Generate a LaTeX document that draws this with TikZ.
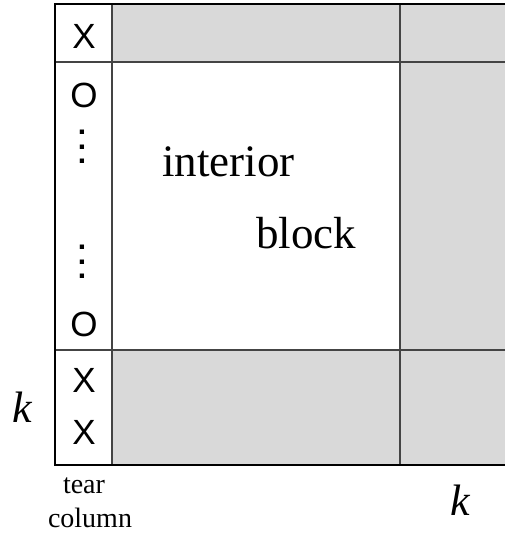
\documentclass[tikz,border=0pt]{standalone}
\usepackage{fontspec}
\setmainfont{Liberation Serif}
\newfontfamily\sansf{Liberation Sans}
\definecolor{cellgray}{HTML}{D9D9D9}
\definecolor{linegray}{HTML}{444444}
\begin{document}
\begin{tikzpicture}[x=1pt,y=-1pt,
  cell/.style={fill=cellgray,draw=none},
  border/.style={draw=black,line width=1.6pt},
  inner/.style={draw=linegray,line width=1.3pt},
  entry/.style={inner sep=0pt,font=\sansf\fontsize{35}{40}\selectfont},
  dotcol/.style={inner sep=0pt,anchor=north,align=center,font=\sansf\bfseries\fontsize{30}{14.5}\selectfont},
  big/.style={inner sep=0pt,anchor=base west,font=\fontsize{45}{54}\selectfont},
  klabel/.style={inner sep=0pt,anchor=base,font=\itshape\fontsize{44}{52}\selectfont},
  small/.style={inner sep=0pt,anchor=base,font=\fontsize{28}{34}\selectfont}]
\useasboundingbox (0,0) rectangle (505,537);
% grey blocks
\fill[cell] (112,4) rectangle (505,62);
\fill[cell] (400,62) rectangle (505,350);
\fill[cell] (112,350) rectangle (505,465);
% grid lines
\coordinate (tl) at (55,4);
\coordinate (bl) at (55,465);
\coordinate (tr) at (505,4);
\coordinate (br) at (505,465);
\draw[inner] (112,4) -- (112,465);
\draw[inner] (400,4) -- (400,465);
\draw[inner] (55,62) -- (505,62);
\draw[inner] (55,350) -- (505,350);
\draw[border] (tr) -- (tl) -- (bl) -- (br);
% tear column entries
\node[entry] (x1) at (84,36) {X};
\node[entry] (o1) at (84,95) {O};
\node[dotcol] (d1) at (82,130) {.\\.\\.};
\node[dotcol] (d2) at (82,245) {.\\.\\.};
\node[entry] (o2) at (84,324) {O};
\node[entry] (x2) at (84,380) {X};
\node[entry] (x3) at (84,432) {X};
% labels
\node[big] (int) at (162,177) {interior};
\node[big] (blk) at (256,248) {block};
\node[klabel] (kl) at (22,422) {k};
\node[klabel] (kr) at (460,515) {k};
\node[small] (tear) at (84,493) {tear};
\node[small] (col) at (90,527) {column};
\end{tikzpicture}
\end{document}
